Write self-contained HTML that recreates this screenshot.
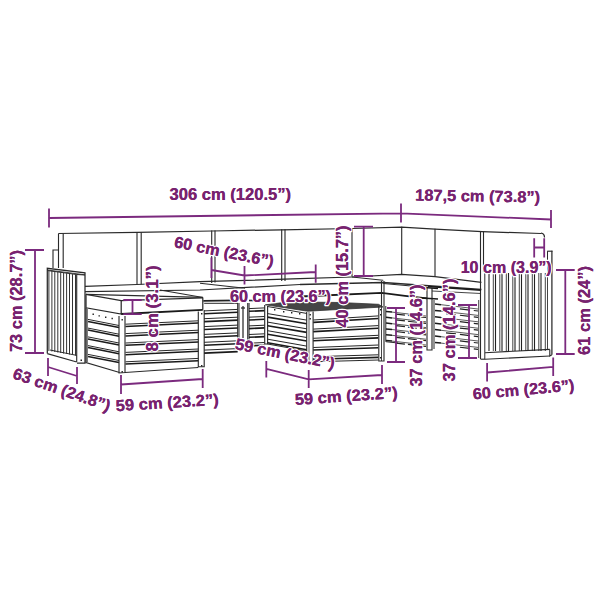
<!DOCTYPE html>
<html><head><meta charset="utf-8">
<style>
html,body{margin:0;padding:0;background:#fff;width:600px;height:600px;overflow:hidden}
svg{display:block}
.t{font-family:"Liberation Sans",sans-serif;font-weight:bold;font-size:16px;fill:#78226f;stroke:#fff;stroke-width:2.5px;paint-order:stroke;stroke-linejoin:round}
.t2{font-family:"Liberation Sans",sans-serif;font-weight:bold;font-size:16px;fill:#78226f;stroke:#78226f;stroke-width:0.1px}
.d{stroke:#7b2a7e;stroke-width:1.8;fill:none}
.k{stroke:#444;stroke-width:0.9;fill:none}
</style></head><body>
<svg width="600" height="600" viewBox="0 0 600 600">
<g id="draw">
<path d="M58.5,233.5 L137.0,232.3 L212.0,231.0 L282.0,229.8 L352.0,228.5 L401.7,227.2 L435.0,229.2 L482.0,231.6 L541.0,233.5" stroke="#2a2a2a" stroke-width="1.25" fill="none" />
<path d="M541,233.2 Q544.5,233.5 544.5,237.5" stroke="#2a2a2a" stroke-width="1.25" fill="none" />
<path d="M58.5,233.5 L58.5,268.0" stroke="#2a2a2a" stroke-width="1.125" fill="none" />
<path d="M63.2,233.5 L63.2,268.0" stroke="#2a2a2a" stroke-width="1.125" fill="none" />
<path d="M137.0,232.3 L137.0,284.0" stroke="#2a2a2a" stroke-width="1.125" fill="none" />
<path d="M141.2,232.3 L141.2,284.5" stroke="#2a2a2a" stroke-width="1.125" fill="none" />
<path d="M211.7,230.5 L211.7,283.0" stroke="#2a2a2a" stroke-width="1.125" fill="none" />
<path d="M215.0,230.4 L215.0,282.5" stroke="#2a2a2a" stroke-width="1.125" fill="none" />
<path d="M281.7,229.3 L281.7,281.0" stroke="#2a2a2a" stroke-width="1.125" fill="none" />
<path d="M285.0,229.2 L285.0,281.0" stroke="#2a2a2a" stroke-width="1.125" fill="none" />
<path d="M352.0,228.5 L352.0,276.5" stroke="#2a2a2a" stroke-width="1.125" fill="none" />
<path d="M401.7,226.7 L401.7,274.0" stroke="#2a2a2a" stroke-width="1.125" fill="none" />
<path d="M435.0,228.8 L435.0,276.5" stroke="#2a2a2a" stroke-width="1.125" fill="none" />
<path d="M480.5,231.0 L480.5,359.0" stroke="#2a2a2a" stroke-width="1.125" fill="none" />
<path d="M483.5,231.2 L483.5,272.0" stroke="#2a2a2a" stroke-width="1.125" fill="none" />
<path d="M85.0,286.3 L137.0,284.5 L200.0,281.7 L300.0,278.7 L352.0,277.0 L401.7,274.5 L435.0,276.7 L481.4,282.3" stroke="#2a2a2a" stroke-width="1.25" fill="none" />
<path d="M85.0,291.7 L200.0,290.0 L300.0,284.5" stroke="#2a2a2a" stroke-width="1.25" fill="none" />
<path d="M300.0,284.5 L383.3,282.5 L481.4,289.5" stroke="#2a2a2a" stroke-width="1.5" fill="none" />
<path d="M160.0,290.0 L203.0,297.5" stroke="#2a2a2a" stroke-width="1.125" fill="none" />
<path d="M200.0,283.3 L245.0,288.3" stroke="#2a2a2a" stroke-width="1.125" fill="none" />
<path d="M383.3,283.5 L428.0,287.5" stroke="#2a2a2a" stroke-width="1.125" fill="none" />
<path d="M352.0,277.0 L383.3,280.3" stroke="#2a2a2a" stroke-width="1.0" fill="none" />
<path d="M53.0,268.0 L53.0,250.0 L58.5,250.0" stroke="#2a2a2a" stroke-width="1.125" fill="none" />
<path d="M47.3,353.6 L47.3,268.3 L85.0,272.8 L85.0,363.0 L77.0,363.0" stroke="#2a2a2a" stroke-width="1.25" fill="none" />
<path d="M47.3,270.5 L76.7,274.5" stroke="#2a2a2a" stroke-width="1.0" fill="none" />
<path d="M76.7,274.5 L85.0,275.0" stroke="#2a2a2a" stroke-width="1.0" fill="none" />
<path d="M76.7,274.5 L76.7,362.0" stroke="#2a2a2a" stroke-width="1.125" fill="none" />
<path d="M47.3,353.6 L76.7,362.0" stroke="#2a2a2a" stroke-width="1.125" fill="none" />
<path d="M50.0,350.0 L76.7,355.4" stroke="#2a2a2a" stroke-width="1.0" fill="none" />
<path d="M48.9,270.5 L48.9,351.0" stroke="#333" stroke-width="1.0" fill="none" />
<path d="M51.9,270.9 L51.9,351.5" stroke="#333" stroke-width="1.0" fill="none" />
<path d="M54.8,271.4 L54.8,352.0" stroke="#333" stroke-width="1.0" fill="none" />
<path d="M57.8,271.9 L57.8,352.5" stroke="#333" stroke-width="1.0" fill="none" />
<path d="M60.7,272.3 L60.7,353.0" stroke="#333" stroke-width="1.0" fill="none" />
<path d="M63.6,272.8 L63.6,353.5" stroke="#333" stroke-width="1.0" fill="none" />
<path d="M66.6,273.2 L66.6,354.0" stroke="#333" stroke-width="1.0" fill="none" />
<path d="M69.5,273.6 L69.5,354.5" stroke="#333" stroke-width="1.0" fill="none" />
<path d="M72.5,274.1 L72.5,355.0" stroke="#333" stroke-width="1.0" fill="none" />
<path d="M75.5,274.6 L75.5,355.5" stroke="#333" stroke-width="1.0" fill="none" />
<path d="M47.3,270.0 L85.0,274.8" stroke="#2a2a2a" stroke-width="0.875" fill="none" />
<path d="M80.5,359.5 L82.0,359.5 L82.0,361.0 L80.5,361.0Z" fill="#222" stroke="none" stroke-width="0.9"/>
<path d="M86.0,294.3 L202.8,297.4" stroke="#2a2a2a" stroke-width="1.25" fill="none" />
<path d="M86.0,294.3 L121.2,300.5 L202.8,297.8" stroke="#2a2a2a" stroke-width="1.25" fill="none" />
<path d="M86.0,294.3 L86.0,307.8 L121.2,314.0 L121.2,300.5" stroke="#2a2a2a" stroke-width="1.25" fill="none" />
<path d="M202.8,297.4 L202.8,309.8" stroke="#2a2a2a" stroke-width="1.25" fill="none" />
<path d="M121.2,314.0 L202.8,309.8" stroke="#1a1a1a" stroke-width="1.8" fill="none" />
<path d="M86.0,308.0 L86.0,362.5 L119.6,372.5" stroke="#2a2a2a" stroke-width="1.25" fill="none" />
<path d="M87.2,309.0 L87.2,362.0" stroke="#2a2a2a" stroke-width="0.875" fill="none" />
<path d="M88.0,319.4 L119.0,325.5" stroke="#2a2a2a" stroke-width="1.0" fill="none" />
<path d="M88.0,321.4 L119.0,327.5" stroke="#1a1a1a" stroke-width="1.5" fill="none" />
<path d="M88.0,328.1 L119.0,334.2" stroke="#2a2a2a" stroke-width="1.0" fill="none" />
<path d="M88.0,330.1 L119.0,336.2" stroke="#1a1a1a" stroke-width="1.5" fill="none" />
<path d="M88.0,336.9 L119.0,343.0" stroke="#2a2a2a" stroke-width="1.0" fill="none" />
<path d="M88.0,338.9 L119.0,345.0" stroke="#1a1a1a" stroke-width="1.5" fill="none" />
<path d="M88.0,345.6 L119.0,351.8" stroke="#2a2a2a" stroke-width="1.0" fill="none" />
<path d="M88.0,347.6 L119.0,353.8" stroke="#1a1a1a" stroke-width="1.5" fill="none" />
<path d="M88.0,354.4 L119.0,360.5" stroke="#2a2a2a" stroke-width="1.0" fill="none" />
<path d="M88.0,356.4 L119.0,362.5" stroke="#1a1a1a" stroke-width="1.5" fill="none" />
<path d="M92.5,313.5 L93.9,313.5 L93.9,314.9 L92.5,314.9Z" fill="#222" stroke="none" stroke-width="0.9"/>
<path d="M98.5,315.2 L99.9,315.2 L99.9,316.6 L98.5,316.6Z" fill="#222" stroke="none" stroke-width="0.9"/>
<path d="M105.0,316.5 L106.4,316.5 L106.4,317.9 L105.0,317.9Z" fill="#222" stroke="none" stroke-width="0.9"/>
<path d="M111.5,317.8 L112.9,317.8 L112.9,319.2 L111.5,319.2Z" fill="#222" stroke="none" stroke-width="0.9"/>
<path d="M119.0,316.0 L119.0,373.0 L125.0,372.5 L125.0,316.0" stroke="#2a2a2a" stroke-width="1.125" fill="none" />
<path d="M125.5,324.2 L198.3,320.8" stroke="#2a2a2a" stroke-width="1.0" fill="none" />
<path d="M125.5,326.5 L198.3,323.1" stroke="#1a1a1a" stroke-width="1.5" fill="none" />
<path d="M125.5,333.6 L198.3,330.2" stroke="#2a2a2a" stroke-width="1.0" fill="none" />
<path d="M125.5,335.9 L198.3,332.5" stroke="#1a1a1a" stroke-width="1.5" fill="none" />
<path d="M125.5,343.0 L198.3,339.6" stroke="#2a2a2a" stroke-width="1.0" fill="none" />
<path d="M125.5,345.3 L198.3,341.9" stroke="#1a1a1a" stroke-width="1.5" fill="none" />
<path d="M125.5,352.4 L198.3,349.0" stroke="#2a2a2a" stroke-width="1.0" fill="none" />
<path d="M125.5,354.7 L198.3,351.3" stroke="#1a1a1a" stroke-width="1.5" fill="none" />
<path d="M125.5,361.8 L198.3,358.4" stroke="#2a2a2a" stroke-width="1.0" fill="none" />
<path d="M125.5,364.1 L198.3,360.7" stroke="#1a1a1a" stroke-width="1.5" fill="none" />
<path d="M125.0,372.5 L198.3,367.5" stroke="#2a2a2a" stroke-width="1.125" fill="none" />
<path d="M198.3,311.5 L198.3,366.7 L204.2,366.7 L204.2,310.0" stroke="#2a2a2a" stroke-width="1.125" fill="none" />
<path d="M121.5,319.0 L122.9,319.0 L122.9,320.4 L121.5,320.4Z" fill="#222" stroke="none" stroke-width="0.9"/>
<path d="M121.5,371.0 L122.9,371.0 L122.9,372.4 L121.5,372.4Z" fill="#222" stroke="none" stroke-width="0.9"/>
<path d="M201.0,313.0 L202.4,313.0 L202.4,314.4 L201.0,314.4Z" fill="#222" stroke="none" stroke-width="0.9"/>
<path d="M201.0,365.0 L202.4,365.0 L202.4,366.4 L201.0,366.4Z" fill="#222" stroke="none" stroke-width="0.9"/>
<path d="M203.3,300.8 L237.0,300.3" stroke="#222" stroke-width="1.8" fill="none" />
<path d="M204.2,303.3 L238.0,303.3" stroke="#2a2a2a" stroke-width="1.0" fill="none" />
<path d="M237.7,303.0 L237.7,345.0" stroke="#2a2a2a" stroke-width="1.125" fill="none" />
<path d="M239.0,303.0 L239.0,345.0" stroke="#2a2a2a" stroke-width="1.0" fill="none" />
<path d="M247.7,303.0 L247.7,345.0" stroke="#2a2a2a" stroke-width="1.0" fill="none" />
<path d="M249.0,303.0 L249.0,345.0" stroke="#2a2a2a" stroke-width="1.125" fill="none" />
<path d="M243.0,306.0 L243.0,338.0" stroke="#2a2a2a" stroke-width="1.25" fill="none" />
<path d="M241.0,308.0 L245.0,308.0" stroke="#2a2a2a" stroke-width="1.25" fill="none" />
<path d="M204.2,310.9 L237.7,309.4" stroke="#252525" stroke-width="1.0" fill="none" />
<path d="M204.2,313.8 L237.7,312.3" stroke="#1a1a1a" stroke-width="1.6" fill="none" />
<path d="M204.2,318.7 L237.7,317.2" stroke="#252525" stroke-width="1.0" fill="none" />
<path d="M204.2,321.6 L237.7,320.1" stroke="#1a1a1a" stroke-width="1.6" fill="none" />
<path d="M204.2,326.6 L237.7,325.1" stroke="#252525" stroke-width="1.0" fill="none" />
<path d="M204.2,329.5 L237.7,328.0" stroke="#1a1a1a" stroke-width="1.6" fill="none" />
<path d="M204.2,334.4 L237.7,332.9" stroke="#252525" stroke-width="1.0" fill="none" />
<path d="M204.2,337.3 L237.7,335.8" stroke="#1a1a1a" stroke-width="1.6" fill="none" />
<path d="M204.2,342.3 L237.7,340.8" stroke="#252525" stroke-width="1.0" fill="none" />
<path d="M204.2,345.2 L237.7,343.7" stroke="#1a1a1a" stroke-width="1.6" fill="none" />
<path d="M204.2,350.1 L237.7,348.6" stroke="#252525" stroke-width="1.0" fill="none" />
<path d="M204.2,353.1 L237.7,351.6" stroke="#1a1a1a" stroke-width="1.6" fill="none" />
<path d="M249.0,308.6 L264.5,307.9" stroke="#252525" stroke-width="1.0" fill="none" />
<path d="M249.0,311.3 L264.5,310.6" stroke="#1a1a1a" stroke-width="1.6" fill="none" />
<path d="M249.0,317.2 L264.5,316.5" stroke="#252525" stroke-width="1.0" fill="none" />
<path d="M249.0,320.0 L264.5,319.3" stroke="#1a1a1a" stroke-width="1.6" fill="none" />
<path d="M249.0,325.9 L264.5,325.2" stroke="#252525" stroke-width="1.0" fill="none" />
<path d="M249.0,328.6 L264.5,327.9" stroke="#1a1a1a" stroke-width="1.6" fill="none" />
<path d="M249.0,334.5 L264.5,333.8" stroke="#252525" stroke-width="1.0" fill="none" />
<path d="M249.0,337.3 L264.5,336.6" stroke="#1a1a1a" stroke-width="1.6" fill="none" />
<path d="M249.0,343.2 L264.5,342.5" stroke="#252525" stroke-width="1.0" fill="none" />
<path d="M249.0,345.9 L264.5,345.2" stroke="#1a1a1a" stroke-width="1.6" fill="none" />
<path d="M249.0,300.5 L265.0,300.5" stroke="#222" stroke-width="1.6" fill="none" />
<path d="M265.3,304.8 L289.0,301.8 L340.0,302.5 L378.5,304.3 L383.0,307.0 L307.8,311.2Z" fill="#454545" stroke="#333" stroke-width="0.8"/>
<path d="M264.7,305.0 L264.7,344.0 L267.6,344.0 L267.6,306.0" stroke="#2a2a2a" stroke-width="1.125" fill="none" />
<path d="M267.6,306.5 L307.0,313.5" stroke="#2a2a2a" stroke-width="1.0" fill="none" />
<path d="M274.0,309.0 L275.4,309.0 L275.4,310.4 L274.0,310.4Z" fill="#222" stroke="none" stroke-width="0.9"/>
<path d="M283.0,311.0 L284.4,311.0 L284.4,312.4 L283.0,312.4Z" fill="#222" stroke="none" stroke-width="0.9"/>
<path d="M291.0,312.0 L292.4,312.0 L292.4,313.4 L291.0,313.4Z" fill="#222" stroke="none" stroke-width="0.9"/>
<path d="M299.0,313.0 L300.4,313.0 L300.4,314.4 L299.0,314.4Z" fill="#222" stroke="none" stroke-width="0.9"/>
<path d="M267.6,313.6 L306.7,320.1" stroke="#252525" stroke-width="1.0" fill="none" />
<path d="M267.6,317.1 L306.7,323.7" stroke="#1a1a1a" stroke-width="1.6" fill="none" />
<path d="M267.6,322.1 L306.7,328.8" stroke="#252525" stroke-width="1.0" fill="none" />
<path d="M267.6,325.7 L306.7,332.4" stroke="#1a1a1a" stroke-width="1.6" fill="none" />
<path d="M267.6,330.7 L306.7,337.5" stroke="#252525" stroke-width="1.0" fill="none" />
<path d="M267.6,334.2 L306.7,341.0" stroke="#1a1a1a" stroke-width="1.6" fill="none" />
<path d="M267.6,339.2 L306.7,346.1" stroke="#252525" stroke-width="1.0" fill="none" />
<path d="M267.6,342.7 L306.7,349.7" stroke="#1a1a1a" stroke-width="1.6" fill="none" />
<path d="M267.6,344.0 L306.7,351.0" stroke="#2a2a2a" stroke-width="1.125" fill="none" />
<path d="M306.7,312.0 L306.7,361.7 L313.1,361.7 L313.1,311.5" stroke="#2a2a2a" stroke-width="1.125" fill="none" />
<path d="M309.0,312.0 L309.0,361.0" stroke="#2a2a2a" stroke-width="0.75" fill="none" />
<path d="M313.3,320.0 L378.3,315.9" stroke="#252525" stroke-width="1.0" fill="none" />
<path d="M313.3,322.4 L378.3,318.5" stroke="#1a1a1a" stroke-width="1.6" fill="none" />
<path d="M313.3,329.1 L378.3,325.6" stroke="#252525" stroke-width="1.0" fill="none" />
<path d="M313.3,331.6 L378.3,328.2" stroke="#1a1a1a" stroke-width="1.6" fill="none" />
<path d="M313.3,338.3 L378.3,335.3" stroke="#252525" stroke-width="1.0" fill="none" />
<path d="M313.3,340.8 L378.3,337.9" stroke="#1a1a1a" stroke-width="1.6" fill="none" />
<path d="M313.3,347.5 L378.3,345.0" stroke="#252525" stroke-width="1.0" fill="none" />
<path d="M313.3,350.0 L378.3,347.7" stroke="#1a1a1a" stroke-width="1.6" fill="none" />
<path d="M313.3,356.7 L378.3,354.8" stroke="#252525" stroke-width="1.0" fill="none" />
<path d="M313.3,359.2 L378.3,357.4" stroke="#1a1a1a" stroke-width="1.6" fill="none" />
<path d="M313.3,361.7 L378.3,360.0" stroke="#2a2a2a" stroke-width="1.125" fill="none" />
<path d="M378.8,306.0 L378.8,361.0 L384.0,361.0 L384.0,306.0" stroke="#2a2a2a" stroke-width="1.125" fill="none" />
<path d="M381.5,306.0 L381.5,361.0" stroke="#2a2a2a" stroke-width="0.875" fill="none" />
<path d="M309.5,314.0 L310.9,314.0 L310.9,315.4 L309.5,315.4Z" fill="#222" stroke="none" stroke-width="0.9"/>
<path d="M309.5,318.0 L310.9,318.0 L310.9,319.4 L309.5,319.4Z" fill="#222" stroke="none" stroke-width="0.9"/>
<path d="M380.0,309.0 L381.4,309.0 L381.4,310.4 L380.0,310.4Z" fill="#222" stroke="none" stroke-width="0.9"/>
<path d="M380.0,314.0 L381.4,314.0 L381.4,315.4 L380.0,315.4Z" fill="#222" stroke="none" stroke-width="0.9"/>
<path d="M380.0,357.0 L381.4,357.0 L381.4,358.4 L380.0,358.4Z" fill="#222" stroke="none" stroke-width="0.9"/>
<path d="M300.0,296.5 L381.7,292.9 L405.0,295.8 L427.0,298.3" stroke="#1a1a1a" stroke-width="1.8" fill="none" />
<path d="M381.5,281.0 L381.5,306.0" stroke="#2a2a2a" stroke-width="1.125" fill="none" />
<path d="M384.0,281.0 L384.0,306.0" stroke="#2a2a2a" stroke-width="1.125" fill="none" />
<path d="M385.8,306.0 L385.8,341.7" stroke="#2a2a2a" stroke-width="1.0" fill="none" />
<path d="M386.0,311.5 L392.0,312.1" stroke="#1a1a1a" stroke-width="1.5" fill="none" />
<path d="M392.0,312.1 L426.0,316.0" stroke="#444" stroke-width="0.875" fill="none" />
<path d="M396,314.1 L426,317.5" stroke="#222" stroke-width="1.25" fill="none" stroke-dasharray="9 3"/>
<path d="M386.0,317.3 L392.0,317.9" stroke="#1a1a1a" stroke-width="1.5" fill="none" />
<path d="M392.0,317.9 L426.0,321.8" stroke="#444" stroke-width="0.875" fill="none" />
<path d="M396,319.9 L426,323.3" stroke="#222" stroke-width="1.25" fill="none" stroke-dasharray="9 3"/>
<path d="M386.0,323.1 L392.0,323.7" stroke="#1a1a1a" stroke-width="1.5" fill="none" />
<path d="M392.0,323.7 L426.0,327.6" stroke="#444" stroke-width="0.875" fill="none" />
<path d="M396,325.7 L426,329.1" stroke="#222" stroke-width="1.25" fill="none" stroke-dasharray="9 3"/>
<path d="M386.0,328.9 L392.0,329.5" stroke="#1a1a1a" stroke-width="1.5" fill="none" />
<path d="M392.0,329.5 L426.0,333.4" stroke="#444" stroke-width="0.875" fill="none" />
<path d="M396,331.5 L426,334.9" stroke="#222" stroke-width="1.25" fill="none" stroke-dasharray="9 3"/>
<path d="M386.0,334.7 L392.0,335.3" stroke="#1a1a1a" stroke-width="1.5" fill="none" />
<path d="M392.0,335.3 L426.0,339.2" stroke="#444" stroke-width="0.875" fill="none" />
<path d="M396,337.3 L426,340.7" stroke="#222" stroke-width="1.25" fill="none" stroke-dasharray="9 3"/>
<path d="M386.0,340.5 L392.0,341.1" stroke="#1a1a1a" stroke-width="1.5" fill="none" />
<path d="M392.0,341.1 L426.0,345.0" stroke="#444" stroke-width="0.875" fill="none" />
<path d="M396,343.1 L426,346.5" stroke="#222" stroke-width="1.25" fill="none" stroke-dasharray="9 3"/>
<path d="M385.8,341.7 L398.0,343.0" stroke="#2a2a2a" stroke-width="1.0" fill="none" />
<path d="M427.0,288.0 L427.0,350.0 L432.0,350.0 L432.0,288.0" stroke="#2a2a2a" stroke-width="1.125" fill="none" />
<path d="M422.0,298.0 L438.0,299.0" stroke="#1a1a1a" stroke-width="1.6" fill="none" />
<path d="M424.0,287.5 L438.0,288.5" stroke="#1a1a1a" stroke-width="1.75" fill="none" />
<path d="M434.0,300.0 L434.0,349.0" stroke="#2a2a2a" stroke-width="1.0" fill="none" />
<path d="M428.0,286.5 L481.0,290.2" stroke="#1a1a1a" stroke-width="1.6" fill="none" />
<path d="M432.0,291.0 L481.0,293.5" stroke="#2a2a2a" stroke-width="0.875" fill="none" />
<path d="M435.0,304.0 L441.0,304.7" stroke="#1a1a1a" stroke-width="1.5" fill="none" />
<path d="M441.0,304.7 L478.0,309.0" stroke="#444" stroke-width="0.875" fill="none" />
<path d="M446,307.2 L478,311.0" stroke="#222" stroke-width="1.25" fill="none" stroke-dasharray="10 4"/>
<path d="M435.0,310.4 L441.0,311.1" stroke="#1a1a1a" stroke-width="1.5" fill="none" />
<path d="M441.0,311.1 L478.0,315.4" stroke="#444" stroke-width="0.875" fill="none" />
<path d="M446,313.6 L478,317.4" stroke="#222" stroke-width="1.25" fill="none" stroke-dasharray="10 4"/>
<path d="M435.0,316.8 L441.0,317.5" stroke="#1a1a1a" stroke-width="1.5" fill="none" />
<path d="M441.0,317.5 L478.0,321.8" stroke="#444" stroke-width="0.875" fill="none" />
<path d="M446,320.0 L478,323.8" stroke="#222" stroke-width="1.25" fill="none" stroke-dasharray="10 4"/>
<path d="M435.0,323.2 L441.0,323.9" stroke="#1a1a1a" stroke-width="1.5" fill="none" />
<path d="M441.0,323.9 L478.0,328.2" stroke="#444" stroke-width="0.875" fill="none" />
<path d="M446,326.4 L478,330.2" stroke="#222" stroke-width="1.25" fill="none" stroke-dasharray="10 4"/>
<path d="M435.0,329.6 L441.0,330.3" stroke="#1a1a1a" stroke-width="1.5" fill="none" />
<path d="M441.0,330.3 L478.0,334.6" stroke="#444" stroke-width="0.875" fill="none" />
<path d="M446,332.8 L478,336.6" stroke="#222" stroke-width="1.25" fill="none" stroke-dasharray="10 4"/>
<path d="M435.0,336.0 L441.0,336.7" stroke="#1a1a1a" stroke-width="1.5" fill="none" />
<path d="M441.0,336.7 L478.0,341.0" stroke="#444" stroke-width="0.875" fill="none" />
<path d="M446,339.2 L478,343.0" stroke="#222" stroke-width="1.25" fill="none" stroke-dasharray="10 4"/>
<path d="M435.0,342.4 L441.0,343.1" stroke="#1a1a1a" stroke-width="1.5" fill="none" />
<path d="M441.0,343.1 L478.0,347.4" stroke="#444" stroke-width="0.875" fill="none" />
<path d="M446,345.6 L478,349.4" stroke="#222" stroke-width="1.25" fill="none" stroke-dasharray="10 4"/>
<path d="M478.7,300.0 L478.7,358.0" stroke="#2a2a2a" stroke-width="0.875" fill="none" />
<path d="M484.8,272.0 L484.8,359.2" stroke="#2a2a2a" stroke-width="1.0" fill="none" />
<path d="M480.5,359.2 L485.0,359.2" stroke="#2a2a2a" stroke-width="1.125" fill="none" />
<path d="M551.9,250.8 L551.9,354.8" stroke="#2a2a2a" stroke-width="1.25" fill="none" />
<path d="M547.2,251.2 L552.5,251.2" stroke="#2a2a2a" stroke-width="1.125" fill="none" />
<path d="M547.5,251.2 L547.5,272.0" stroke="#2a2a2a" stroke-width="1.0" fill="none" />
<path d="M489.0,273.0 L489.0,351.0" stroke="#222" stroke-width="1.125" fill="none" />
<path d="M493.3,273.0 L493.3,351.0" stroke="#2a2a2a" stroke-width="0.875" fill="none" />
<path d="M495.5,273.0 L495.5,351.0" stroke="#222" stroke-width="1.125" fill="none" />
<path d="M499.8,273.0 L499.8,351.0" stroke="#2a2a2a" stroke-width="0.875" fill="none" />
<path d="M502.0,273.0 L502.0,351.0" stroke="#222" stroke-width="1.125" fill="none" />
<path d="M506.3,273.0 L506.3,351.0" stroke="#2a2a2a" stroke-width="0.875" fill="none" />
<path d="M508.5,273.0 L508.5,351.0" stroke="#222" stroke-width="1.125" fill="none" />
<path d="M512.8,273.0 L512.8,351.0" stroke="#2a2a2a" stroke-width="0.875" fill="none" />
<path d="M515.0,273.0 L515.0,351.0" stroke="#222" stroke-width="1.125" fill="none" />
<path d="M519.3,273.0 L519.3,351.0" stroke="#2a2a2a" stroke-width="0.875" fill="none" />
<path d="M521.5,273.0 L521.5,351.0" stroke="#222" stroke-width="1.125" fill="none" />
<path d="M525.8,273.0 L525.8,351.0" stroke="#2a2a2a" stroke-width="0.875" fill="none" />
<path d="M528.0,273.0 L528.0,351.0" stroke="#222" stroke-width="1.125" fill="none" />
<path d="M532.3,273.0 L532.3,351.0" stroke="#2a2a2a" stroke-width="0.875" fill="none" />
<path d="M534.5,273.0 L534.5,351.0" stroke="#222" stroke-width="1.125" fill="none" />
<path d="M538.8,273.0 L538.8,351.0" stroke="#2a2a2a" stroke-width="0.875" fill="none" />
<path d="M541.0,273.0 L541.0,351.0" stroke="#222" stroke-width="1.125" fill="none" />
<path d="M545.3,273.0 L545.3,351.0" stroke="#2a2a2a" stroke-width="0.875" fill="none" />
<path d="M547.5,273.0 L547.5,350.0" stroke="#2a2a2a" stroke-width="0.875" fill="none" />
<path d="M485.0,352.7 L549.8,349.4" stroke="#2a2a2a" stroke-width="1.125" fill="none" />
<path d="M485.0,359.2 L549.8,356.0" stroke="#2a2a2a" stroke-width="1.125" fill="none" />
<path d="M549.8,349.4 L549.8,356.0 L551.9,354.8" stroke="#2a2a2a" stroke-width="1.125" fill="none" />
</g>
<g id="dims">
<!-- top 306 -->
<path class="d" d="M49,208.5V227.5M49,218 L401,213.3 L551,219.5 M401,203.5V222.5 M551,210V228"/>
<!-- 73 cm -->
<path class="d" d="M35,250V353 M25,250H44 M25,353H44"/>
<!-- 63 cm -->
<path class="d" d="M48,358V376 M77,367V384 M48,367 L77,376"/>
<!-- 59 left -->
<path class="d" d="M121,375V394 M202.7,369V388 M121,384.5 L202.7,379"/>
<!-- 8 cm -->
<path class="d" d="M123.3,300H141.7 M123.3,314.2H141.7 M132.5,300V314.2"/>
<!-- 60 cm depth + 60 width -->
<path class="d" d="M211.4,257.5V278 M211.4,270 L244.5,275.5 L315.7,272 M244.5,266V284.6 M315.7,264.4V282.8"/>
<!-- 40 cm -->
<path class="d" d="M363.7,226.7V276 M354,226.7H373 M354,276H373"/>
<!-- 59 center -->
<path class="d" d="M266.3,361V377.5 M266.3,368.8 L308.7,379.3 L382,375 M308.7,370V388 M382,365V384"/>
<!-- 37 cm a -->
<path class="d" d="M396,308V362 M387,308H405 M387,362H405"/>
<!-- 37 cm b -->
<path class="d" d="M469,305V358 M458,305H477 M458,358H477"/>
<!-- 10 cm H -->
<path class="d" d="M534.2,238.3V257.5 M544.2,238.3V257.5 M534.2,247.5H544.2"/>
<!-- 61 cm -->
<path class="d" d="M565.3,270V354 M556,270H574.7 M556,354H574.7"/>
<!-- 60 right -->
<path class="d" d="M487.1,363V381.4 M553.2,357.6V376 M487.1,372.5 L553.2,366.9"/>
</g>
<g id="txt">
<text class="t" x="230.25" y="200" text-anchor="middle" textLength="121.5" lengthAdjust="spacingAndGlyphs">306 cm (120.5”)</text>
<text class="t" transform="translate(477.5,201.5) rotate(1)" text-anchor="middle" textLength="125" lengthAdjust="spacingAndGlyphs">187,5 cm (73.8”)</text>
<text class="t" transform="translate(22,301) rotate(-90)" text-anchor="middle" textLength="102" lengthAdjust="spacingAndGlyphs">73 cm (28.7”)</text>
<text class="t" transform="translate(60,394.8) rotate(19.2)" text-anchor="middle" textLength="102" lengthAdjust="spacingAndGlyphs">63 cm (24.8”)</text>
<text class="t" transform="translate(167.5,408) rotate(-3.5)" text-anchor="middle" textLength="103" lengthAdjust="spacingAndGlyphs">59 cm (23.2”)</text>
<text class="t" transform="translate(158.3,308.5) rotate(-90)" text-anchor="middle" textLength="86" lengthAdjust="spacingAndGlyphs">8 cm (3.1”)</text>
<text class="t" transform="translate(223,257) rotate(11.4)" text-anchor="middle" textLength="101" lengthAdjust="spacingAndGlyphs">60 cm (23.6”)</text>
<text class="t" x="280.5" y="302" text-anchor="middle" textLength="101" lengthAdjust="spacingAndGlyphs">60 cm (23.6”)</text>
<text class="t" transform="translate(284,359) rotate(11.5)" text-anchor="middle" textLength="101" lengthAdjust="spacingAndGlyphs">59 cm (23.2”)</text>
<text class="t" transform="translate(347.5,276.5) rotate(-90)" text-anchor="middle" textLength="102" lengthAdjust="spacingAndGlyphs">40 cm (15.7”)</text>
<text class="t" transform="translate(346.5,401.5) rotate(-4)" text-anchor="middle" textLength="103" lengthAdjust="spacingAndGlyphs">59 cm (23.2”)</text>
<text class="t" transform="translate(422,335.5) rotate(-90)" text-anchor="middle" textLength="102" lengthAdjust="spacingAndGlyphs">37 cm (14.6”)</text>
<text class="t" transform="translate(454.5,330) rotate(-90)" text-anchor="middle" textLength="103" lengthAdjust="spacingAndGlyphs">37 cm (14.6”)</text>
<text class="t" x="506.2" y="272.5" text-anchor="middle" textLength="91" lengthAdjust="spacingAndGlyphs">10 cm (3.9”)</text>
<text class="t" transform="translate(589.7,310.5) rotate(-90)" text-anchor="middle" textLength="89" lengthAdjust="spacingAndGlyphs">61 cm (24”)</text>
<text class="t" transform="translate(524,395) rotate(-5)" text-anchor="middle" textLength="102" lengthAdjust="spacingAndGlyphs">60 cm (23.6”)</text>
</g>
<g id="txt2">
<text class="t2" x="230.25" y="200" text-anchor="middle" textLength="121.5" lengthAdjust="spacingAndGlyphs">306 cm (120.5”)</text>
<text class="t2" transform="translate(477.5,201.5) rotate(1)" text-anchor="middle" textLength="125" lengthAdjust="spacingAndGlyphs">187,5 cm (73.8”)</text>
<text class="t2" transform="translate(22,301) rotate(-90)" text-anchor="middle" textLength="102" lengthAdjust="spacingAndGlyphs">73 cm (28.7”)</text>
<text class="t2" transform="translate(60,394.8) rotate(19.2)" text-anchor="middle" textLength="102" lengthAdjust="spacingAndGlyphs">63 cm (24.8”)</text>
<text class="t2" transform="translate(167.5,408) rotate(-3.5)" text-anchor="middle" textLength="103" lengthAdjust="spacingAndGlyphs">59 cm (23.2”)</text>
<text class="t2" transform="translate(158.3,308.5) rotate(-90)" text-anchor="middle" textLength="86" lengthAdjust="spacingAndGlyphs">8 cm (3.1”)</text>
<text class="t2" transform="translate(223,257) rotate(11.4)" text-anchor="middle" textLength="101" lengthAdjust="spacingAndGlyphs">60 cm (23.6”)</text>
<text class="t2" x="280.5" y="302" text-anchor="middle" textLength="101" lengthAdjust="spacingAndGlyphs">60 cm (23.6”)</text>
<text class="t2" transform="translate(284,359) rotate(11.5)" text-anchor="middle" textLength="101" lengthAdjust="spacingAndGlyphs">59 cm (23.2”)</text>
<text class="t2" transform="translate(347.5,276.5) rotate(-90)" text-anchor="middle" textLength="102" lengthAdjust="spacingAndGlyphs">40 cm (15.7”)</text>
<text class="t2" transform="translate(346.5,401.5) rotate(-4)" text-anchor="middle" textLength="103" lengthAdjust="spacingAndGlyphs">59 cm (23.2”)</text>
<text class="t2" transform="translate(422,335.5) rotate(-90)" text-anchor="middle" textLength="102" lengthAdjust="spacingAndGlyphs">37 cm (14.6”)</text>
<text class="t2" transform="translate(454.5,330) rotate(-90)" text-anchor="middle" textLength="103" lengthAdjust="spacingAndGlyphs">37 cm (14.6”)</text>
<text class="t2" x="506.2" y="272.5" text-anchor="middle" textLength="91" lengthAdjust="spacingAndGlyphs">10 cm (3.9”)</text>
<text class="t2" transform="translate(589.7,310.5) rotate(-90)" text-anchor="middle" textLength="89" lengthAdjust="spacingAndGlyphs">61 cm (24”)</text>
<text class="t2" transform="translate(524,395) rotate(-5)" text-anchor="middle" textLength="102" lengthAdjust="spacingAndGlyphs">60 cm (23.6”)</text>
</g>
</svg>
</body></html>
